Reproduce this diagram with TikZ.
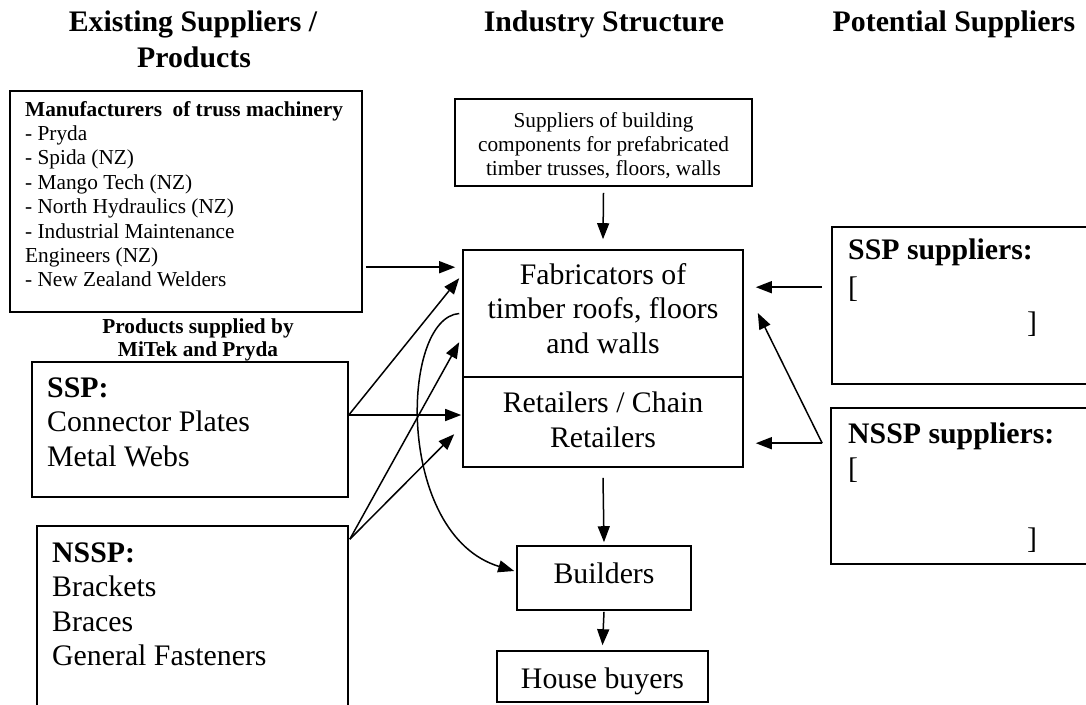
\documentclass[tikz,border=0pt]{standalone}
\usepackage{fontspec}
\setmainfont{Liberation Serif}
\usetikzlibrary{arrows.meta,calc}
\begin{document}
\begin{tikzpicture}[x=1pt,y=-1pt,
  box/.style={draw, line width=1.6pt, inner sep=0pt},
  hd/.style={font=\fontsize{29.8}{34.5}\selectfont\bfseries, inner sep=0pt, anchor=base},
  bigt/.style={font=\fontsize{29.8}{34.5}\selectfont, inner sep=0pt},
  sm/.style={font=\fontsize{21.3}{24.4}\selectfont, inner sep=0pt},
  lt/.style={anchor=base west},
  ct/.style={anchor=base},
  arr/.style={line width=1.5pt, -{Triangle[length=16pt,width=12pt]}}]
\clip (0,0) rectangle (1086,704);
\fill[white] (0,0) rectangle (1086,704);

% headings
\node[hd] (h1a) at (193,31) {Existing Suppliers /};
\node[hd] (h1b) at (194,67) {Products};
\node[hd] (h2) at (604,31) {Industry Structure};
\node[hd] (h3) at (954,31) {Potential Suppliers};

% boxes
\node[box, minimum width=352pt, minimum height=221pt] (mfr) at (186,201.5) {};
\node[box, minimum width=297pt, minimum height=87pt] (sup) at (603.5,142.5) {};
\node[box, minimum width=280pt, minimum height=127pt] (fab) at (603,313.5) {};
\node[box, minimum width=280pt, minimum height=90pt] (ret) at (603,422) {};
\node[box, minimum width=174pt, minimum height=64pt] (bld) at (604,578) {};
\node[box, minimum width=211pt, minimum height=51pt] (hb) at (602.5,676.5) {};
\node[box, minimum width=316pt, minimum height=135pt] (ssp) at (190,429.5) {};
\node[box, minimum width=311pt, minimum height=200pt] (nssp) at (192.5,626) {};
\node[box, minimum width=268pt, minimum height=157pt] (ssps) at (966,305.5) {};
\node[box, minimum width=269pt, minimum height=156pt] (nssps) at (965.5,486) {};

% manufacturers text
\node[sm,lt] (m1) at (25,116) {\textbf{Manufacturers\ \ of truss machinery}};
\node[sm,lt] (m2) at (25,140.4) {- Pryda};
\node[sm,lt] (m3) at (25,164.8) {- Spida (NZ)};
\node[sm,lt] (m4) at (25,189.2) {- Mango Tech (NZ)};
\node[sm,lt] (m5) at (25,213.6) {- North Hydraulics (NZ)};
\node[sm,lt] (m6) at (25,238) {- Industrial Maintenance};
\node[sm,lt] (m7) at (25,262.4) {Engineers (NZ)};
\node[sm,lt] (m8) at (25,286.8) {- New Zealand Welders};

\node[sm,ct] (p1) at (198,333) {\textbf{Products supplied by}};
\node[sm,ct] (p2) at (198,356) {\textbf{MiTek and Pryda}};

% suppliers of building components
\node[sm,ct] (s1) at (603.5,127) {Suppliers of building};
\node[sm,ct] (s2) at (603.5,151.5) {components for prefabricated};
\node[sm,ct] (s3) at (603.5,175) {timber trusses, floors, walls};

% center texts
\node[bigt,ct] (f1) at (603,284) {Fabricators of};
\node[bigt,ct] (f2) at (603,318.5) {timber roofs, floors};
\node[bigt,ct] (f3) at (603,353) {and walls};
\node[bigt,ct] (r1) at (603,412) {Retailers / Chain};
\node[bigt,ct] (r2) at (603,447) {Retailers};
\node[bigt,ct] (b1) at (604,583) {Builders};
\node[bigt,ct] (hb1) at (602.5,688) {House buyers};

% SSP / NSSP product boxes
\node[bigt,lt] (sp1) at (47,397) {\textbf{SSP:}};
\node[bigt,lt] (sp2) at (47,431) {Connector Plates};
\node[bigt,lt] (sp3) at (47,466) {Metal Webs};
\node[bigt,lt] (np1) at (52,562) {\textbf{NSSP:}};
\node[bigt,lt] (np2) at (52,596) {Brackets};
\node[bigt,lt] (np3) at (52,631) {Braces};
\node[bigt,lt] (np4) at (52,665) {General Fasteners};

% potential suppliers
\node[bigt,lt] (ss1) at (848,259) {\textbf{SSP suppliers:}};
\node[bigt,lt] (ss2) at (848,297) {[};
\node[bigt,lt] (ss3) at (1027,332) {]};
\node[bigt,lt] (ns1) at (848,443) {\textbf{NSSP suppliers:}};
\node[bigt,lt] (ns2) at (848,478) {[};
\node[bigt,lt] (ns3) at (1027,548) {]};

% connectors
\draw[arr] ([yshift=-6pt]sup.south) -- ([yshift=10pt]fab.north);
\coordinate (mfrO) at ($(mfr.north east)+(3,177)$);
\coordinate (fabL) at ($(fab.west)+(-7,0)$);
\draw[arr] (mfrO) -- (fabL |- mfrO);
\coordinate (sspO) at ($(ssp.east)+(0,-14.5)$);
\draw[arr] (sspO) -- ($(fab.north west)+(-3,29)$);
\draw[arr] (sspO) -- ([xshift=-1pt]sspO -| ret.west);
\coordinate (nsspO) at ($(nssp.north east)+(1,14)$);
\draw[arr] (nsspO) -- ($(fab.north west)+(-3,93)$);
\draw[arr] (nsspO) -- ($(ret.north west)+(-8,58)$);
\draw[arr] ([xshift=-3pt]fab.west) .. controls (400,318) and (395,535) .. ($(bld.west)+(-2,-7)$);
\draw[arr] ([yshift=-10pt]ret.south) -- ([yshift=3pt]bld.north);
\draw[arr] ([yshift=-1pt]bld.south) -- ([yshift=5pt]hb.north);
\coordinate (fabR) at ($(fab.east)+(12,0)$);
\coordinate (sspsO) at ($(ssps.north west)+(-9,61)$);
\draw[arr] (sspsO) -- (fabR |- sspsO);
\coordinate (nsspsO) at ($(nssps.north west)+(-8,36)$);
\draw[arr] (nsspsO) -- (fabR |- nsspsO);
\draw[arr] (nsspsO) -- ($(fab.east)+(14,-0.5)$);
\end{tikzpicture}
\end{document}
